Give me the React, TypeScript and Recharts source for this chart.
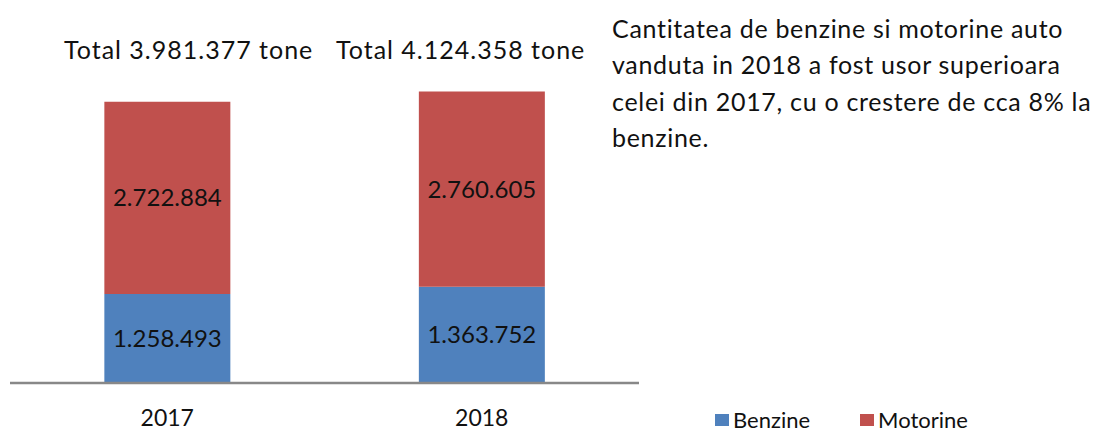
import React from "react";
import { Bar, BarChart, LabelList, XAxis, YAxis } from "recharts";

const years = ["2017", "2018"];
const benzine = [1258493, 1363752];
const motorine = [2722884, 2760605];
const totals = ["Total 3.981.377 tone", "Total 4.124.358 tone"];
const seriesNames = ["Benzine", "Motorine"];
const seriesColors = ["#4F81BD", "#C0504D"];
const noteLines = [
  "Cantitatea de benzine si motorine auto",
  "vanduta in 2018 a fost usor superioara",
  "celei din 2017, cu o crestere de cca 8% la",
  "benzine.",
];

const FONT = "Lato, Carlito, Calibri, sans-serif";

// romanian style thousands: 1.258.493
const fmt = (v: number) => String(v).replace(/\B(?=(\d{3})+(?!\d))/g, ".");

const data = years.map((y, i) => ({
  year: y,
  benzine: benzine[i],
  motorine: motorine[i],
}));

const totalPos = [64, 336];

export default function App() {
  return (
    <div
      style={{
        position: "absolute",
        left: 0,
        top: 0,
        width: 1100,
        height: 432,
        background: "#fff",
        fontFamily: FONT,
        color: "#111",
      }}
    >
      <BarChart
        width={660}
        height={432}
        data={data}
        barCategoryGap="30%"
        margin={{ top: 65, right: 21, left: 10, bottom: 0 }}
      >
        <XAxis
          dataKey="year"
          height={49}
          axisLine={{ stroke: "#888888", strokeWidth: 2.5 }}
          tickLine={false}
          tickSize={0}
          tickMargin={27}
          tick={{ fontSize: 23, fill: "#111", fontFamily: FONT }}
        />
        <YAxis hide domain={[0, 4500000]} />
        <Bar dataKey="benzine" stackId="a" fill={seriesColors[0]} isAnimationActive={false}>
          <LabelList
            dataKey="benzine"
            position="center"
            formatter={(v: number) => fmt(v)}
            style={{ fontSize: 24, fill: "#111", fontFamily: FONT }}
          />
        </Bar>
        <Bar dataKey="motorine" stackId="a" fill={seriesColors[1]} isAnimationActive={false}>
          <LabelList
            dataKey="motorine"
            position="center"
            formatter={(v: number) => fmt(v)}
            style={{ fontSize: 24, fill: "#111", fontFamily: FONT }}
          />
        </Bar>
      </BarChart>

      {totals.map((t, i) => (
        <div
          key={t}
          style={{
            position: "absolute",
            left: totalPos[i],
            top: 34,
            fontSize: 25,
            letterSpacing: 1,
            whiteSpace: "nowrap",
            lineHeight: "30px",
          }}
        >
          {t}
        </div>
      ))}

      <div
        style={{
          position: "absolute",
          left: 612,
          top: 10,
          fontSize: 25,
          letterSpacing: 0.7,
        }}
      >
        {noteLines.map((l) => (
          <div key={l} style={{ whiteSpace: "nowrap", lineHeight: "36.3px" }}>
            {l}
          </div>
        ))}
      </div>

      <div
        style={{
          position: "absolute",
          left: 715,
          top: 409,
          display: "flex",
          fontSize: 22,
          lineHeight: "22px",
        }}
      >
        {seriesNames.map((n, i) => (
          <div
            key={n}
            style={{ display: "flex", alignItems: "center", marginRight: 50 }}
          >
            <span
              style={{
                display: "inline-block",
                width: 14,
                height: 12,
                background: seriesColors[i],
                marginRight: 4,
              }}
            />
            {n}
          </div>
        ))}
      </div>
    </div>
  );
}
